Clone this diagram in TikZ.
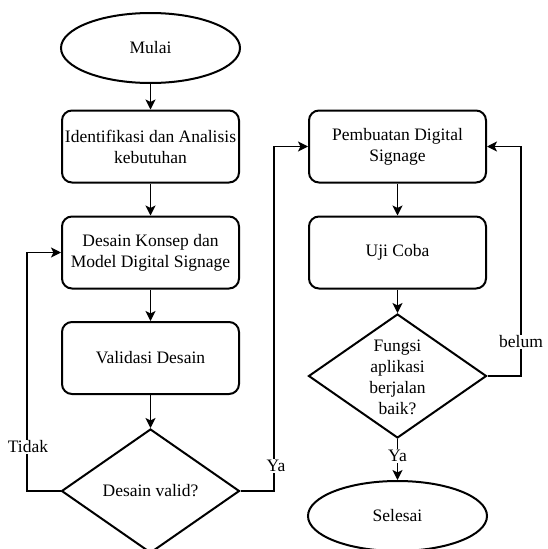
\documentclass[tikz,border=0pt]{standalone}
\usepackage{fontspec}
\setmainfont{Liberation Serif}
\usetikzlibrary{shapes.geometric,arrows.meta}
\begin{document}
\begin{tikzpicture}[x=1pt,y=-1pt,
  txt/.style={font=\fontsize{17.5}{21}\selectfont},
  proc/.style={txt,draw,line width=2pt,rounded corners=10pt,minimum width=177pt,minimum height=72pt,align=center,inner sep=0pt},
  term/.style={txt,draw,ellipse,line width=2pt,minimum width=179pt,minimum height=70pt,inner sep=0pt},
  dec/.style={txt,draw,diamond,line width=2pt,shape aspect=1.435,minimum width=178pt,minimum height=124pt,align=center,inner sep=0pt},
  conn/.style={line width=1.2pt,-{Stealth[length=10pt,width=10pt,inset=2.5pt]}},
  lbl/.style={txt,fill=white,inner sep=1pt}]
\useasboundingbox (0,0) rectangle (548,549);
\fill[white] (0,0) rectangle (548,549);
\node[term] (mulai) at (150.5,48) {Mulai};
\node[proc] (b1) at (150.5,146.5) {Identifikasi dan Analisis\\kebutuhan};
\node[proc] (b2) at (150.5,252.5) {Desain Konsep dan\\Model Digital Signage};
\node[proc] (b3) at (150.5,358) {Validasi Desain};
\node[dec] (d1) at (150.5,491) {};
\node[txt] (d1t) at (150.5,491) {Desain valid?};
\node[proc] (b4) at (397.5,146.5) {Pembuatan Digital\\Signage};
\node[proc] (b5) at (397.5,252.5) {Uji Coba};
\node[dec] (d2) at (397.5,376) {};
\node[txt,align=center] (d2t) at (397.5,377) {Fungsi\\aplikasi\\berjalan\\baik?};
\node[term] (sel) at (397.5,516) {Selesai};
\coordinate (c1) at (27,491);
\coordinate (c2) at (274,491);
\coordinate (c3) at (521,376);
\draw[conn] (mulai) -- (b1);
\draw[conn] (b1) -- (b2);
\draw[conn] (b2) -- (b3);
\draw[conn] (b3) -- (d1.north);
\draw[conn] (d1.west) -- (c1) |- (b2.west);
\draw[conn] (d1.east) -- (c2) |- (b4.west);
\draw[conn] (b4) -- (b5);
\draw[conn] (b5) -- (d2.north);
\draw[conn] (d2.south) -- (sel.north);
\draw[conn] (d2.east) -- (c3) |- (b4.east);
\node[lbl] (lt) at (28,447) {Tidak};
\node[lbl] (ly) at (276,466) {Ya};
\node[lbl] (ly2) at (397.5,456) {Ya};
\node[lbl] (lb) at (521,342) {belum};
\end{tikzpicture}
\end{document}
